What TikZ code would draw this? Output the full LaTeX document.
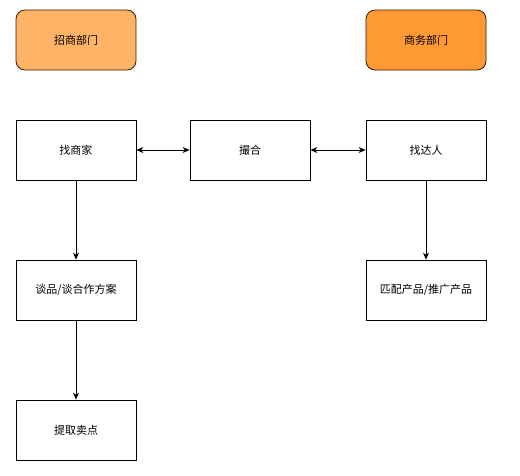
\documentclass[tikz,border=0pt]{standalone}
\usepackage{fontspec}
\newfontfamily\cjk{Noto Sans CJK SC}
\usetikzlibrary{arrows.meta}
\definecolor{deptlight}{HTML}{FFB366}
\definecolor{deptdark}{HTML}{FF9933}
\definecolor{deptline}{HTML}{3A1A00}
\tikzset{
	box/.style={draw, thick, minimum width=120pt, minimum height=60pt, font=\cjk\fontsize{11}{13}\selectfont},
	dept/.style={box, draw=deptline, rounded corners=9pt},
	link/.style={thick, -{Stealth[length=7pt,width=6pt]}},
	biglink/.style={thick, {Stealth[length=7pt,width=6pt]}-{Stealth[length=7pt,width=6pt]}}
}
\begin{document}
\begin{tikzpicture}[x=1pt,y=-1pt]
	\useasboundingbox (0,0) rectangle (520,475);
	%Draw departments
	\node[dept, fill=deptlight] (zhaoshang) at (76,40)  {招商部门};
	\node[dept, fill=deptdark]  (shangwu)   at (426,40) {商务部门};

	%Draw steps
	\node[box] (shangjia) at (76,150)  {找商家};
	\node[box] (cuohe)    at (250,150) {撮合};
	\node[box] (daren)    at (426,150) {找达人};
	\node[box] (tanpin)   at (76,290)  {谈品/谈合作方案};
	\node[box] (pipei)    at (426,290) {匹配产品/推广产品};
	\node[box] (maidian)  at (76,430)  {提取卖点};

	%Draw links
	\draw[biglink] (shangjia) -- (cuohe);
	\draw[biglink] (cuohe) -- (daren);
	\draw[link] (shangjia) -- (tanpin);
	\draw[link] (tanpin) -- (maidian);
	\draw[link] (daren) -- (pipei);
\end{tikzpicture}
\end{document}
